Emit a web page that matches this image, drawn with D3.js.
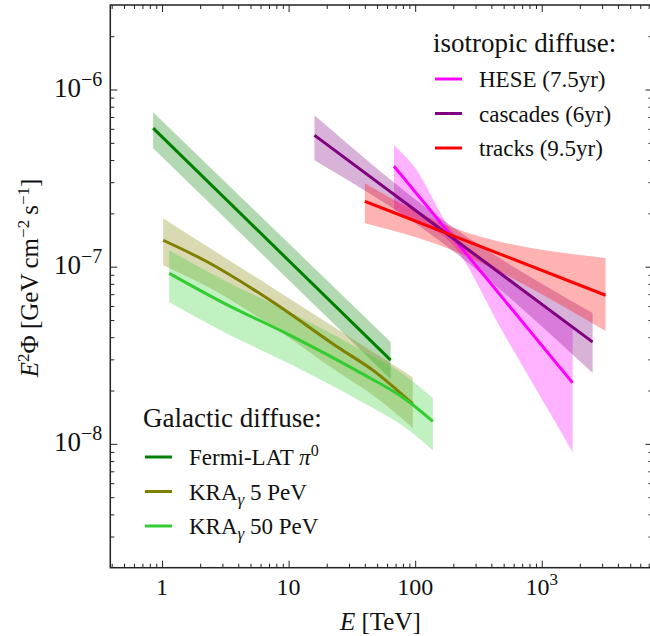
<!DOCTYPE html>
<html>
<head>
<meta charset="utf-8">
<script src="https://cdn.jsdelivr.net/npm/d3@7"></script>
<style>
  body { margin: 0; background: #fff; }
  svg text { font-family: "Liberation Serif", "DejaVu Serif", serif; fill: #111; }
</style>
</head>
<body>
<div id="chart"></div>
<script>
// Galactic diffuse (E in TeV, E^2 Phi in GeV cm^-2 s^-1)
let fermiE = [0.85, 64];
let fermiFlux = [6.05e-7, 2.97e-8];
let fermiLow = [4.66e-7, 2.32e-8];
let fermiHigh = [7.45e-7, 3.76e-8];

let kra5E = [1.02, 2.25, 7.56, 25.4, 46.5, 95.7];
let kra5Flux = [1.41e-7, 1.07e-7, 6.3e-8, 3.45e-8, 2.6e-8, 1.68e-8];
let kra5Low = [1.02e-7, 7.75e-8, 4.57e-8, 2.5e-8, 1.88e-8, 1.23e-8];
let kra5High = [1.88e-7, 1.31e-7, 7.55e-8, 4.35e-8, 3.3e-8, 2.38e-8];

let kra50E = [1.14, 3.05, 10.2, 34.4, 85.3, 138];
let kra50Flux = [9.17e-8, 6.25e-8, 4.11e-8, 2.59e-8, 1.77e-8, 1.34e-8];
let kra50Low = [6.3e-8, 4.3e-8, 2.83e-8, 1.79e-8, 1.22e-8, 9.2e-9];
let kra50High = [1.24e-7, 8.4e-8, 5.55e-8, 3.5e-8, 2.4e-8, 1.81e-8];

// isotropic diffuse
let heseE = [68, 96, 194, 500, 1754];
let heseFlux = [3.69e-7, 2.74e-7, 1.49e-7, 6.56e-8, 2.21e-8];
let heseLow = [2.1e-7, 1.82e-7, 1.35e-7, 4.2e-8, 9.0e-9];
let heseHigh = [4.85e-7, 3.75e-7, 1.6e-7, 9.2e-8, 4.6e-8];

let cascE = [16, 150, 2523];
let cascFlux = [5.52e-7, 1.68e-7, 3.76e-8];
let cascLow = [3.99e-7, 1.43e-7, 2.51e-8];
let cascHigh = [7.16e-7, 1.93e-7, 5.48e-8];

let trackE = [40, 143, 3194];
let trackFlux = [2.34e-7, 1.64e-7, 6.9e-8];
let trackLow = [1.76e-7, 1.35e-7, 4.33e-8];
let trackHigh = [2.96e-7, 1.83e-7, 1.12e-7];

// ticks
let xMajor = [1, 10, 100, 1000];
let xMajorLabels = [['1', ''], ['10', ''], ['100', ''], ['10', '3']];
let yMajor = [1e-8, 1e-7, 1e-6];
let yMajorLabels = [['10', '\u22128'], ['10', '\u22127'], ['10', '\u22126']];

// series tables
let galactic = [
  {E: fermiE, flux: fermiFlux, lo: fermiLow, hi: fermiHigh, color: '#008000'},
  {E: kra5E, flux: kra5Flux, lo: kra5Low, hi: kra5High, color: '#808000'},
  {E: kra50E, flux: kra50Flux, lo: kra50Low, hi: kra50High, color: '#32cd32'}
];
let isotropic = [
  {E: heseE, flux: heseFlux, lo: heseLow, hi: heseHigh, color: '#ff00ff'},
  {E: cascE, flux: cascFlux, lo: cascLow, hi: cascHigh, color: '#800080'},
  {E: trackE, flux: trackFlux, lo: trackLow, hi: trackHigh, color: '#ff0000'}
];

let width = 650, height = 636;
let mLeft = 110.3, mRight = 652.5, mTop = 5, mBottom = 567.7;

let x = d3.scaleLog().domain([0.39, 7500]).range([mLeft, mRight]);
let y = d3.scaleLog().domain([2e-9, 3e-6]).range([mBottom, mTop]);

let svg = d3.select('#chart').append('svg').attr('width', width).attr('height', height);

svg.append('defs').append('clipPath').attr('id', 'clip')
  .append('rect').attr('x', mLeft).attr('y', mTop).attr('width', mRight - mLeft).attr('height', mBottom - mTop);

let plot = svg.append('g').attr('clip-path', 'url(#clip)');

function rows(s) {
  return s.E.map(function (e, i) { return {e: e, f: s.flux[i], lo: s.lo[i], hi: s.hi[i]}; });
}

let band = d3.area()
  .x(function (d) { return x(d.e); })
  .y0(function (d) { return y(d.lo); })
  .y1(function (d) { return y(d.hi); })
  .curve(d3.curveMonotoneX);

let line = d3.line()
  .x(function (d) { return x(d.e); })
  .y(function (d) { return y(d.f); })
  .curve(d3.curveMonotoneX);

let all = galactic.concat(isotropic);

// bands first, lines on top
plot.selectAll('path.band')
  .data(all)
  .enter().append('path')
    .attr('class', 'band')
    .attr('d', function (s) { return band(rows(s)); })
    .attr('fill', function (s) { return s.color; })
    .attr('fill-opacity', 0.3)
    .attr('stroke', 'none');

plot.selectAll('path.line')
  .data(all)
  .enter().append('path')
    .attr('class', 'line')
    .attr('d', function (s) { return line(rows(s)); })
    .attr('fill', 'none')
    .attr('stroke', function (s) { return s.color; })
    .attr('stroke-width', 3);

// minor tick positions
let xMinor = [];
for (let k = -1; k <= 3; k++) {
  for (let m = 2; m <= 9; m++) {
    let v = m * Math.pow(10, k);
    if (v > 0.39 && v < 7500) xMinor.push(v);
  }
}
let yMinor = [];
for (let k = -9; k <= -6; k++) {
  for (let m = 2; m <= 9; m++) {
    let v = m * Math.pow(10, k);
    if (v > 2.01e-9 && v < 2.99e-6) yMinor.push(v);
  }
}

// axes (ticks inward on all four sides)
function tickAxis(axisFn, scale, vals, size, pos) {
  let g = svg.append('g').attr('transform', pos)
    .call(axisFn(scale).tickValues(vals).tickSizeInner(-size).tickSizeOuter(0).tickFormat(''));
  g.select('.domain').remove();
  g.selectAll('line').attr('stroke', '#222').attr('stroke-width', 1);
  return g;
}
tickAxis(d3.axisBottom, x, xMajor, 7, 'translate(0,' + mBottom + ')');
tickAxis(d3.axisBottom, x, xMinor, 4, 'translate(0,' + mBottom + ')');
tickAxis(d3.axisTop, x, xMajor, 7, 'translate(0,' + mTop + ')');
tickAxis(d3.axisTop, x, xMinor, 4, 'translate(0,' + mTop + ')');
tickAxis(d3.axisLeft, y, yMajor, 7, 'translate(' + mLeft + ',0)');
tickAxis(d3.axisLeft, y, yMinor, 4, 'translate(' + mLeft + ',0)');
tickAxis(d3.axisRight, y, yMajor, 7, 'translate(' + mRight + ',0)');
tickAxis(d3.axisRight, y, yMinor, 4, 'translate(' + mRight + ',0)');

// frame
svg.append('rect')
  .attr('x', mLeft).attr('y', mTop)
  .attr('width', mRight - mLeft).attr('height', mBottom - mTop)
  .attr('fill', 'none').attr('stroke', '#222').attr('stroke-width', 1.5);

// tick labels
xMajor.forEach(function (v, i) {
  let t = svg.append('text')
    .attr('x', x(v)).attr('y', mBottom + 27)
    .attr('text-anchor', 'middle')
    .style('font-size', '24px');
  t.append('tspan').text(xMajorLabels[i][0]);
  if (xMajorLabels[i][1]) {
    t.append('tspan').attr('dy', -10).style('font-size', '17px').text(xMajorLabels[i][1]);
  }
});

yMajor.forEach(function (v, i) {
  let t = svg.append('text')
    .attr('x', mLeft - 8).attr('y', y(v) + 7)
    .attr('text-anchor', 'end')
    .style('font-size', '27px');
  t.append('tspan').text(yMajorLabels[i][0]);
  t.append('tspan').attr('dy', -11).style('font-size', '20px').text(yMajorLabels[i][1]);
});

// axis labels
let xl = svg.append('text')
  .attr('x', (mLeft + mRight) / 2 - 1).attr('y', 630)
  .attr('text-anchor', 'middle')
  .style('font-size', '25px');
xl.append('tspan').style('font-style', 'italic').text('E');
xl.append('tspan').text(' [TeV]');

let yl = svg.append('text')
  .attr('transform', 'translate(38,' + 278 + ') rotate(-90)')
  .attr('text-anchor', 'middle')
  .style('font-size', '25px');
yl.append('tspan').style('font-style', 'italic').text('E');
yl.append('tspan').attr('dy', -9).style('font-size', '17px').text('2');
yl.append('tspan').attr('dy', 9).text('\u03a6 [GeV\u2009cm');
yl.append('tspan').attr('dy', -9).style('font-size', '17px').text('\u22122');
yl.append('tspan').attr('dy', 9).text('\u2009s');
yl.append('tspan').attr('dy', -9).style('font-size', '17px').text('\u22121');
yl.append('tspan').attr('dy', 9).text(']');

// legends
function legend(title, tx, ty, items, lx, ly, gap) {
  svg.append('text').attr('x', tx).attr('y', ty).style('font-size', '27px').text(title);
  items.forEach(function (it, i) {
    let yy = ly + i * gap;
    svg.append('line')
      .attr('x1', lx).attr('x2', lx + 27)
      .attr('y1', yy).attr('y2', yy)
      .attr('stroke', it.color).attr('stroke-width', 3);
    let t = svg.append('text').attr('x', lx + 44).attr('y', yy + 8).style('font-size', '23px');
    it.parts.forEach(function (p) {
      let s = t.append('tspan').text(p.t);
      if (p.italic) s.style('font-style', 'italic');
      if (p.dy) s.attr('dy', p.dy);
      if (p.size) s.style('font-size', p.size);
    });
  });
}

legend('isotropic diffuse:', 433, 52, [
  {color: isotropic[0].color, parts: [{t: 'HESE (7.5yr)'}]},
  {color: isotropic[1].color, parts: [{t: 'cascades (6yr)'}]},
  {color: isotropic[2].color, parts: [{t: 'tracks (9.5yr)'}]}
], 435, 79, 34.5);

legend('Galactic diffuse:', 143, 427, [
  {color: galactic[0].color, parts: [{t: 'Fermi-LAT '}, {t: '\u03c0', italic: true}, {t: '0', dy: -9, size: '16px'}]},
  {color: galactic[1].color, parts: [{t: 'KRA'}, {t: '\u03b3', italic: true, dy: 5, size: '17px'}, {t: ' 5 PeV', dy: -5}]},
  {color: galactic[2].color, parts: [{t: 'KRA'}, {t: '\u03b3', italic: true, dy: 5, size: '17px'}, {t: ' 50 PeV', dy: -5}]}
], 145, 457, 34.5);
</script>
</body>
</html>
